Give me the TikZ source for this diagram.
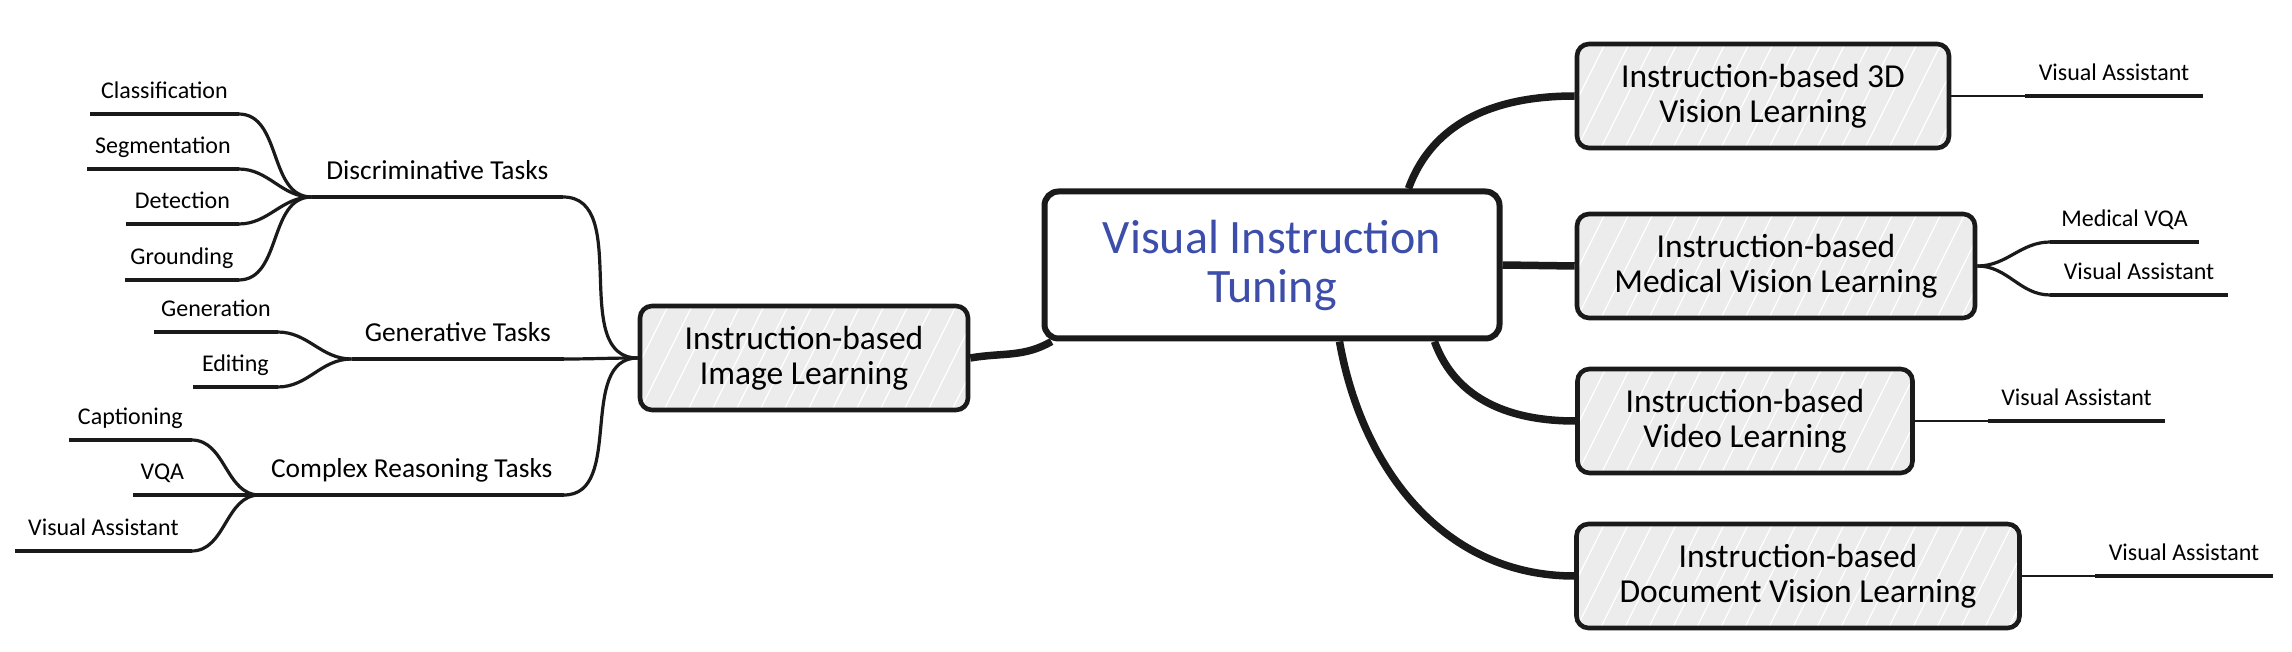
\documentclass[tikz,border=0pt]{standalone}
\usepackage{fontspec}
\setmainfont{Carlito}
\usetikzlibrary{positioning}
\definecolor{ink}{HTML}{1A1A1A}
\definecolor{paper}{HTML}{ECECEC}
\definecolor{accent}{HTML}{3D4DAA}

\begin{document}
\begin{tikzpicture}[
    x=1pt, y=-1pt,
    box/.style={rectangle, rounded corners=12pt, draw=ink, line width=4.6pt,
                align=center, inner sep=0pt, minimum height=104pt,
                font=\fontsize{33.5}{35}\selectfont},
    hatch/.style={path picture={
        \foreach \k in {-120,-96,...,480}
          \draw[white, line width=1.2pt]
            ([xshift=\k pt]path picture bounding box.south west) -- ++(60pt,120pt);}},
    topic/.style={box, fill=paper, hatch},
    core/.style={box, fill=white, line width=6pt, rounded corners=14pt,
                 text=accent, font=\fontsize{48}{49}\selectfont},
    leaf/.style={inner sep=0pt, text depth=15pt, font=\fontsize{24}{26}\selectfont},
    branch/.style={leaf, text depth=17pt, font=\fontsize{27.4}{30}\selectfont},
    stem/.style={draw=ink, line width=3.8pt},
    twig/.style={draw=ink, line width=3.2pt},
    thinline/.style={draw=ink, line width=2.2pt},
    trunk/.style={draw=ink, line width=7.5pt}
  ]
    \useasboundingbox (0,0) rectangle (2292,652);

    \node[core, minimum width=455pt, minimum height=147pt] (vit) at (1272,265) {Visual Instruction\\Tuning};
    \node[topic, minimum width=328pt] (img) at (804,358) {Instruction-based\\Image Learning};
    \node[topic, minimum width=372pt] (tdv) at (1763,96) {Instruction-based 3D\\Vision Learning};
    \node[topic, minimum width=398pt] (med) at (1776,266) {Instruction-based\\Medical Vision Learning};
    \node[topic, minimum width=335pt] (vid) at (1745,421) {Instruction-based\\Video Learning};
    \node[topic, minimum width=443pt] (doc) at (1798,576) {Instruction-based\\Document Vision Learning};

    \node[branch, minimum width=251pt, anchor=south east] (dis) at (563,197) {Discriminative Tasks};
    \node[branch, minimum width=212pt, anchor=south east] (gnt) at (564,359) {Generative Tasks};
    \node[branch, minimum width=304pt, anchor=south east] (crt) at (564,495) {Complex Reasoning Tasks};

    \node[leaf, minimum width=148pt, above left=83pt and 73pt of dis.south west] (cls) {Classification};
    \node[leaf, minimum width=151pt, above left=28pt and 73pt of dis.south west] (seg) {Segmentation};
    \node[leaf, minimum width=112pt, below left=27pt and 73pt of dis.south west, anchor=south east] (det) {Detection};
    \node[leaf, minimum width=113pt, below left=83pt and 73pt of dis.south west, anchor=south east] (grd) {Grounding};
    \node[leaf, minimum width=123pt, above left=27pt and 74pt of gnt.south west] (gen) {Generation};
    \node[leaf, minimum width=84pt, below left=28pt and 74pt of gnt.south west, anchor=south east] (edt) {Editing};
    \node[leaf, minimum width=122pt, above left=55pt and 68pt of crt.south west] (cap) {Captioning};
    \node[leaf, minimum width=58pt, left=68pt of crt.south west, anchor=south east] (vqa) {VQA};
    \node[leaf, minimum width=176pt, below left=56pt and 68pt of crt.south west, anchor=south east] (vas) {Visual Assistant};

    \node[leaf, minimum width=177pt, right=74pt of tdv.east, anchor=south west] (va3d) {Visual Assistant};
    \node[leaf, minimum width=148pt, above right=24pt and 73pt of med.east] (mvqa) {Medical VQA};
    \node[leaf, minimum width=177pt, below right=29pt and 73pt of med.east, anchor=south west] (mva) {Visual Assistant};
    \node[leaf, minimum width=177pt, right=73pt of vid.east, anchor=south west] (vavid) {Visual Assistant};
    \node[leaf, minimum width=178pt, right=73pt of doc.east, anchor=south west] (vadoc) {Visual Assistant};

    \foreach \n in {cls,seg,det,grd,gen,edt,cap,vqa,vas,dis,gnt,crt,va3d,mvqa,mva,vavid,vadoc}
      \draw[stem] (\n.south west) -- (\n.south east);

    \foreach \n in {cls,seg,det,grd}
      \draw[twig] (\n.south east) to[out=0, in=180] (dis.south west);
    \foreach \n in {gen,edt}
      \draw[twig] (\n.south east) to[out=0, in=180] (gnt.south west);
    \foreach \n in {cap,vqa,vas}
      \draw[twig] (\n.south east) to[out=0, in=180] (crt.south west);
    \foreach \n in {dis,gnt,crt}
      \draw[twig] (\n.south east) to[out=0, in=180] (img.west);

    \draw[trunk] (img.east) to[out=10, in=210] ([xshift=10pt]vit.south west);
    \draw[trunk] ([xshift=-94pt]vit.north east) to[out=70, in=180] (tdv.west);
    \draw[trunk] (vit.east) -- (med.west);
    \draw[trunk] ([xshift=-68pt]vit.south east) to[out=-70, in=180] (vid.west);
    \draw[trunk] ([xshift=-163pt]vit.south east) to[out=-80, in=180] (doc.west);

    \draw[thinline] (tdv.east) -- (va3d.south west);
    \draw[twig] (med.east) to[out=0, in=180] (mvqa.south west);
    \draw[twig] (med.east) to[out=0, in=180] (mva.south west);
    \draw[thinline] (vid.east) -- (vavid.south west);
    \draw[thinline] (doc.east) -- (vadoc.south west);
  \end{tikzpicture}
\end{document}
